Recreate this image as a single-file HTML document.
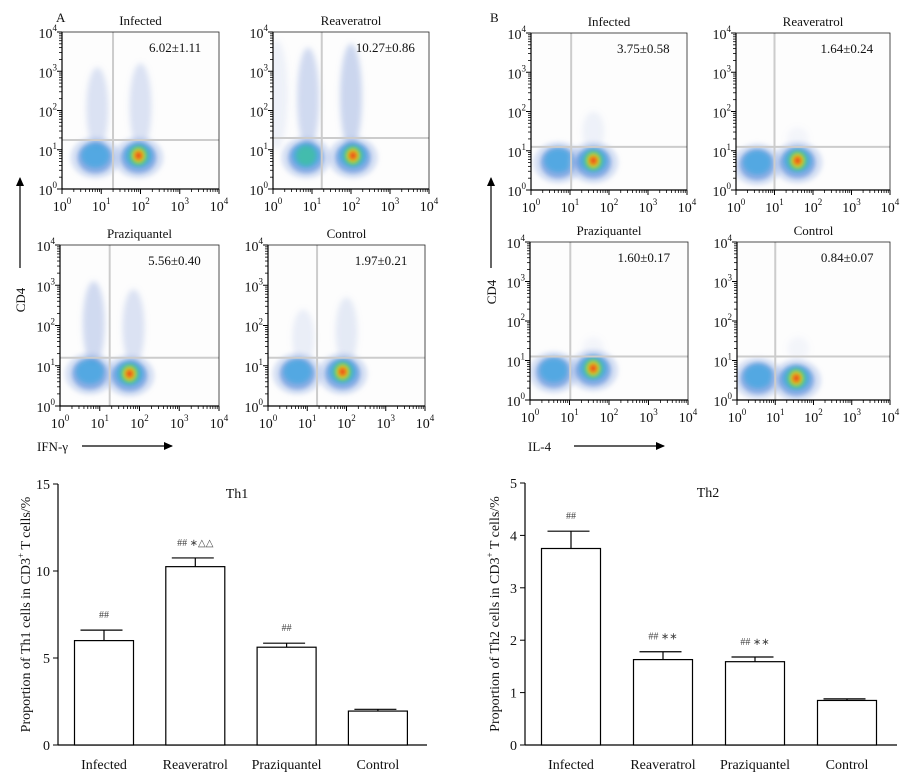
<!DOCTYPE html>
<html><head><meta charset="utf-8"><style>
html,body{margin:0;padding:0;background:#fff;}
svg{display:block;font-family:"Liberation Serif",serif;}
</style></head><body>
<svg id="fig" width="914" height="780" viewBox="0 0 914 780" xmlns="http://www.w3.org/2000/svg">
<defs>
<filter id="bl" x="-50%" y="-50%" width="200%" height="200%"><feGaussianBlur stdDeviation="3"/></filter>
<filter id="bl2" x="-50%" y="-50%" width="200%" height="200%"><feGaussianBlur stdDeviation="2"/></filter>
</defs>
</svg>
<script>
// ---- Bar chart data ----
const categories = ["Infected","Reaveratrol","Praziquantel","Control"];
const th1Values = [6.0, 10.25, 5.62, 1.95];
const th1Errors = [0.6, 0.5, 0.23, 0.1];
const th1Marks = ["##","## \u2217\u25B3\u25B3","##",""];
const th1Ticks = [0,5,10,15];
const th2Values = [3.75, 1.63, 1.59, 0.85];
const th2Errors = [0.33, 0.15, 0.09, 0.03];
const th2Marks = ["##","## \u2217\u2217","## \u2217\u2217",""];
const th2Ticks = [0,1,2,3,4,5];
// ---- Flow plot data (log10 units) ----
const flowTitles = ["Infected","Reaveratrol","Praziquantel","Control"];
const flowStatsA = ["6.02\u00B11.11","10.27\u00B10.86","5.56\u00B10.40","1.97\u00B10.21"];
const flowStatsB = ["3.75\u00B10.58","1.64\u00B10.24","1.60\u00B10.17","0.84\u00B10.07"];
const logTicks = [0,1,2,3,4];

const NS="http://www.w3.org/2000/svg";
const svg=document.getElementById('fig');
function el(tag,attrs,parent){const e=document.createElementNS(NS,tag);for(const k in attrs)e.setAttribute(k,attrs[k]);(parent||svg).appendChild(e);return e;}
function txt(s,attrs,parent){const t=el('text',attrs,parent);t.textContent=s;return t;}

function pow10(parent,x,y,exp,anchor){
  const t=el('text',{x:x,y:y,'font-size':14,'text-anchor':anchor,fill:'#111'},parent);
  
  
  t.appendChild(document.createTextNode('10'));
  const s=document.createElementNS(NS,'tspan');s.setAttribute('dy','-7');s.setAttribute('font-size','9');s.textContent=exp;t.appendChild(s);
}

function flowPlot(box,title,stat,gx,gy,blobs,streaks,name){
  const g=el('g',{});
  
  
  const W=box[2]-box[0],H=box[3]-box[1];
  const px=l=>box[0]+l/4*W, py=l=>box[3]-l/4*H;
  el('rect',{x:box[0],y:box[1],width:W,height:H,fill:'#fdfdfd'},g);
  const cg=el('g',{},g);
  const cid='c'+name;const cp=el('clipPath',{id:cid},g);el('rect',{x:box[0],y:box[1],width:W,height:H},cp);
  cg.setAttribute('clip-path','url(#'+cid+')');
  streaks.forEach(s=>{
    const e=el('ellipse',{cx:px(s[0]),cy:(py(s[1])+py(s[2]))/2,rx:11,ry:(py(s[1])-py(s[2]))/2,fill:'#9ab0e0','fill-opacity':s[3],filter:'url(#bl)'},cg);
    
    
  });
  blobs.forEach(b=>{
    const cx=px(b[0]),cy=py(b[1]),k=b[2];
    const layers=[[25,21,'#a3b8e6',0.4],[18,16,'#3a78d4',0.5],[14,12,'#2aa6e0',0.55]];
    if(k>0.3)layers.push([10,10,'#40c0a0',0.8]);
    if(k>0.6)layers.push([7,8,'#a8d840',0.9]);
    if(k>0.8){layers.push([5,5.5,'#f0c020',1]);layers.push([3,3.5,'#e83a10',1]);}
    layers.forEach((L,j)=>{
      const e=el('ellipse',{cx:cx,cy:cy+(j<2?2:0),rx:L[0],ry:L[1],fill:L[2],'fill-opacity':L[3],filter:'url(#bl2)'},cg);
      
      
    });
  });
  el('line',{x1:px(gx),x2:px(gx),y1:box[1],y2:box[3],stroke:'#ccc','stroke-width':2},g);
  el('line',{x1:box[0],x2:box[2],y1:py(gy),y2:py(gy),stroke:'#ccc','stroke-width':2},g);
  el('rect',{x:box[0],y:box[1],width:W,height:H,fill:'none',stroke:'#222','stroke-width':0.8},g);
  el('line',{x1:box[0],x2:box[2],y1:box[3],y2:box[3],stroke:'#000','stroke-width':1.2},g);
  el('line',{x1:box[0],x2:box[0],y1:box[1],y2:box[3],stroke:'#000','stroke-width':1.2},g);
  logTicks.forEach(d=>{
    el('line',{x1:px(d),x2:px(d),y1:box[3],y2:box[3]+5,stroke:'#000'},g);
    el('line',{x1:box[0]-5,x2:box[0],y1:py(d),y2:py(d),stroke:'#000'},g);
    if(d<4)for(let m=2;m<10;m++){const l=d+Math.log10(m);
      el('line',{x1:px(l),x2:px(l),y1:box[3],y2:box[3]+3,stroke:'#000','stroke-width':0.8},g);
      el('line',{x1:box[0]-3,x2:box[0],y1:py(l),y2:py(l),stroke:'#000','stroke-width':0.8},g);}
    pow10(g,px(d),box[3]+22,d,'middle');
    pow10(g,box[0]-5,py(d)+6,d,'end');
  });
  const t=txt(title,{x:(box[0]+box[2])/2,y:box[1]-7,'font-size':13,'text-anchor':'middle',fill:'#111'},g);
  
  const s=txt(stat,{x:box[0]+W*0.72,y:box[1]+20,'font-size':13,'text-anchor':'middle',fill:'#111'},g);
  
}

// Panel A (IFN-gamma)
const boxesA=[[62,32,219,189],[273,32,429,189],[60,245,219,406],[268,245,425,406]];
const blobsA=[[[0.85,0.85,0.3],[1.95,0.85,1]],[[0.85,0.85,0.5],[2.05,0.85,1]],[[0.75,0.85,0.3],[1.75,0.8,1]],[[0.75,0.85,0.3],[1.9,0.85,0.9]]];
const streaksA=[[[0.9,1,3.1,0.35],[2.0,1,3.2,0.35]],[[0.9,1,3.6,0.45],[2.0,1,3.7,0.5],[0.1,1,3.8,0.15]],[[0.85,1,3.1,0.45],[1.85,1,2.9,0.35]],[[0.9,1,2.4,0.2],[2.0,1,2.7,0.25]]];
const gatesA=[[1.3,1.25],[1.25,1.3],[1.25,1.2],[1.25,1.2]];
boxesA.forEach((b,i)=>flowPlot(b,flowTitles[i],flowStatsA[i],gatesA[i][0],gatesA[i][1],blobsA[i],streaksA[i],'flow-a-'+i));
// Panel B (IL-4)
const boxesB=[[531,33,687,190],[736,33,890,190],[530,242,688,400],[737,242,890,400]];
const blobsB=[[[0.7,0.75,0.3],[1.6,0.75,1]],[[0.55,0.7,0.3],[1.6,0.75,1]],[[0.6,0.75,0.3],[1.6,0.8,0.9]],[[0.55,0.6,0.3],[1.55,0.55,0.9]]];
const streaksB=[[[1.6,1,2,0.15]],[[1.6,1,1.6,0.1]],[[1.6,1,1.6,0.1]],[[1.6,1,1.6,0.1]]];
const gatesB=[[1.03,1.1],[1.0,1.1],[1.02,1.1],[1.0,1.1]];
boxesB.forEach((b,i)=>flowPlot(b,flowTitles[i],flowStatsB[i],gatesB[i][0],gatesB[i][1],blobsB[i],streaksB[i],'flow-b-'+i));

// Panel letters and axis arrows
function label(s,x,y,name,extra){const t=txt(s,Object.assign({x:x,y:y,'font-size':13,fill:'#111'},extra||{}));return t;}
label('A',56,22,'panel-a-label');label('B',490,22,'panel-b-label');
function vArrow(x,y1,y2,name){const g=el('g',{});
 el('line',{x1:x,x2:x,y1:y1,y2:y2,stroke:'#000','stroke-width':1.2},g);el('polygon',{points:`${x-4},${y2+8} ${x+4},${y2+8} ${x},${y2-1}`,fill:'#000'},g);}
function hArrow(y,x1,x2,name){const g=el('g',{});
 el('line',{x1:x1,x2:x2,y1:y,y2:y,stroke:'#000','stroke-width':1.2},g);el('polygon',{points:`${x2-8},${y-4} ${x2-8},${y+4} ${x2+1},${y}`,fill:'#000'},g);}
vArrow(20,268,178,'cd4-arrow-a');label('CD4',25,300,'y-axis-title-cd4-a',{transform:'rotate(-90 25 300)','text-anchor':'middle'});
hArrow(446,82,172,'ifn-arrow');label('IFN-\u03B3',37,451,'x-axis-title-ifn');
vArrow(491,268,178,'cd4-arrow-b');label('CD4',496,292,'y-axis-title-cd4-b',{transform:'rotate(-90 496 292)','text-anchor':'middle'});
hArrow(446,574,664,'il4-arrow');label('IL-4',528,451,'x-axis-title-il4');

// Bar charts
function barChart(o){
  const g=el('g',{});
  const ys=v=>o.y0-(v/o.max)*(o.y0-o.yTop);
  el('line',{x1:o.x0,x2:o.x0,y1:o.yTop,y2:o.y0,stroke:'#000','stroke-width':1.2},g);
  el('line',{x1:o.x0,x2:o.x1,y1:o.y0,y2:o.y0,stroke:'#000','stroke-width':1.2},g);
  o.ticks.forEach(t=>{el('line',{x1:o.x0-5,x2:o.x0,y1:ys(t),y2:ys(t),stroke:'#000'},g);
    const l=txt(String(t),{x:o.x0-8,y:ys(t)+5,'font-size':14,'text-anchor':'end',fill:'#111'},g);
    });
  categories.forEach((c,i)=>{
    const cx=o.x0+o.first+i*o.step, bw=o.bw;
    const r=el('rect',{x:cx-bw/2,y:ys(o.vals[i]),width:bw,height:o.y0-ys(o.vals[i]),fill:'#fff',stroke:'#000','stroke-width':1.2},g);
    
    const top=ys(o.vals[i]+o.errs[i]);
    const e=el('path',{d:`M${cx},${ys(o.vals[i])-0.1}V${top}M${cx-bw/2+6},${top}H${cx+bw/2-11}`,stroke:'#000','stroke-width':1.2,fill:'none'},g);
    
    if(o.marks[i]){const m=txt(o.marks[i],{x:cx,y:top-12,'font-size':10,'text-anchor':'middle',fill:'#444'},g);
      }
    const l=txt(c,{x:cx,y:o.y0+24,'font-size':14,'text-anchor':'middle',fill:'#111'},g);
    
  });
  const t=txt(o.title,{x:o.titleX,y:o.yTop+14,'font-size':14,'text-anchor':'middle',fill:'#111'},g);
  
  const yl=el('text',{x:0,y:0,'font-size':14,'text-anchor':'middle',fill:'#111',transform:`translate(${o.ylx},${(o.yTop+o.y0)/2}) rotate(-90)`},g);
  
  yl.appendChild(document.createTextNode(o.ylabel+' cells in CD3'));
  const sp=document.createElementNS(NS,'tspan');sp.setAttribute('dy','-6');sp.setAttribute('font-size','9');sp.textContent='+';yl.appendChild(sp);
  const sp2=document.createElementNS(NS,'tspan');sp2.setAttribute('dy','6');sp2.textContent=' T cells/%';yl.appendChild(sp2);
}
barChart({name:'th1-chart',x0:58,x1:427,y0:745,yTop:484,max:15,ticks:th1Ticks,vals:th1Values,errs:th1Errors,marks:th1Marks,first:46,step:91.3,bw:59,title:'Th1',titleX:237,ylx:30,ylabel:'Proportion of Th1'});
barChart({name:'th2-chart',x0:525,x1:897,y0:745,yTop:483,max:5,ticks:th2Ticks,vals:th2Values,errs:th2Errors,marks:th2Marks,first:46,step:92,bw:59,title:'Th2',titleX:708,ylx:499,ylabel:'Proportion of Th2'});
</script>
</body></html>
